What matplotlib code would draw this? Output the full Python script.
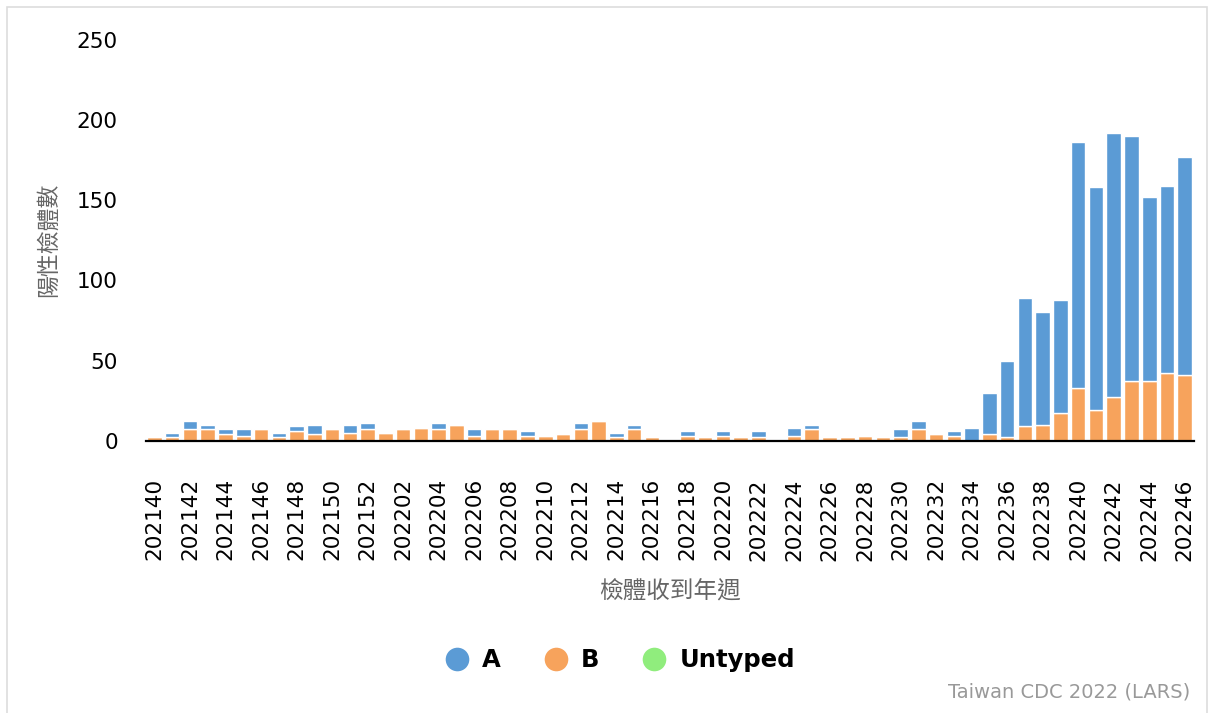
import numpy as np
import matplotlib
matplotlib.use('Agg')
import matplotlib.pyplot as plt
from matplotlib.lines import Line2D
from matplotlib.patches import Rectangle

plt.rcParams['font.family'] = ['DejaVu Sans', 'Noto Sans CJK TC']

# weeks 202140..202152, 202201..202246
weeks = [str(202100 + w) for w in range(40, 53)] + [str(202200 + w) for w in range(1, 47)]

flu_b = [2, 2, 7, 7, 4, 3, 7, 2, 6, 4, 7, 5, 7, 5, 7, 8, 7, 10, 3, 7,
         7, 3, 3, 4, 7, 12, 2, 7, 2, 0, 3, 2, 3, 2, 2, 0, 3, 7, 2, 2,
         3, 2, 2, 7, 4, 3, 0, 4, 2, 9, 10, 17, 33, 19, 27, 37, 37, 42, 41]
flu_a = [0, 3, 5, 3, 3, 4, 0, 3, 3, 6, 0, 5, 4, 0, 0, 0, 4, 0, 4, 0,
         0, 3, 0, 0, 4, 0, 3, 3, 0, 0, 3, 0, 3, 0, 4, 0, 5, 3, 0, 0,
         0, 0, 5, 5, 0, 3, 8, 26, 48, 80, 70, 71, 153, 139, 165, 153, 115, 117, 136]
untyped = [0] * len(weeks)

col_a = '#5b9bd5'
col_b = '#f7a35c'
col_u = '#90ed7d'

fig = plt.figure(figsize=(12.1, 7.13), dpi=100)
ax = fig.add_axes([0.1203, 0.3819, 0.8662, 0.5624])

x = np.arange(len(weeks))
u = np.array(untyped)
b = np.array(flu_b)
a = np.array(flu_a)
ax.bar(x, u, width=0.82, color=col_u, edgecolor='white', linewidth=1.0)
ax.bar(x, b, width=0.82, bottom=u, color=col_b, edgecolor='white', linewidth=1.0)
ax.bar(x, a, width=0.82, bottom=u + b, color=col_a, edgecolor='white', linewidth=1.0)

ax.set_xlim(-0.5, len(weeks) - 0.5)
ax.set_ylim(0, 250)
ax.set_yticks([0, 50, 100, 150, 200, 250])
ax.set_xticks(x[::2])
ax.set_xticklabels(weeks[::2], rotation=90)
ax.tick_params(axis='both', length=0)
ax.tick_params(axis='y', pad=20, labelsize=15.5)
ax.tick_params(axis='x', pad=27, labelsize=15.5)

for s in ['top', 'right', 'left']:
    ax.spines[s].set_visible(False)
ax.spines['bottom'].set_color('black')
ax.spines['bottom'].set_linewidth(1.6)

ax.set_ylabel('陽性檢體數', fontsize=16.5, color='#666666')
ax.yaxis.set_label_coords(-0.093, 0.5)
ax.set_xlabel('檢體收到年週', fontsize=17, color='#666666')
ax.xaxis.set_label_coords(0.5, -0.377)
ax.xaxis.label.set_va('center')
ax.yaxis.label.set_va('center')

handles = [Line2D([], [], marker='o', linestyle='', markersize=17,
                  markerfacecolor=c, markeredgecolor='none') for c in (col_a, col_b, col_u)]
fig.legend(handles, ['A', 'B', 'Untyped'], loc='center', bbox_to_anchor=(0.5124, 0.074),
           ncol=3, frameon=False, prop={'weight': 'bold', 'size': 17.5},
           handlelength=1.0, handletextpad=0.55, columnspacing=1.75)

fig.text(0.9835, 1 - 692 / 713, 'Taiwan CDC 2022 (LARS)', ha='right', va='center',
         color='#999999', fontsize=14)

# light frame around the chart
fig.patches.append(Rectangle((7 / 1210, -0.01), 1200 / 1210, 1 - 7 / 713 + 0.01,
                             transform=fig.transFigure, fill=False,
                             edgecolor='#dddddd', linewidth=1.2))

fig.savefig('out.png', dpi=100)
